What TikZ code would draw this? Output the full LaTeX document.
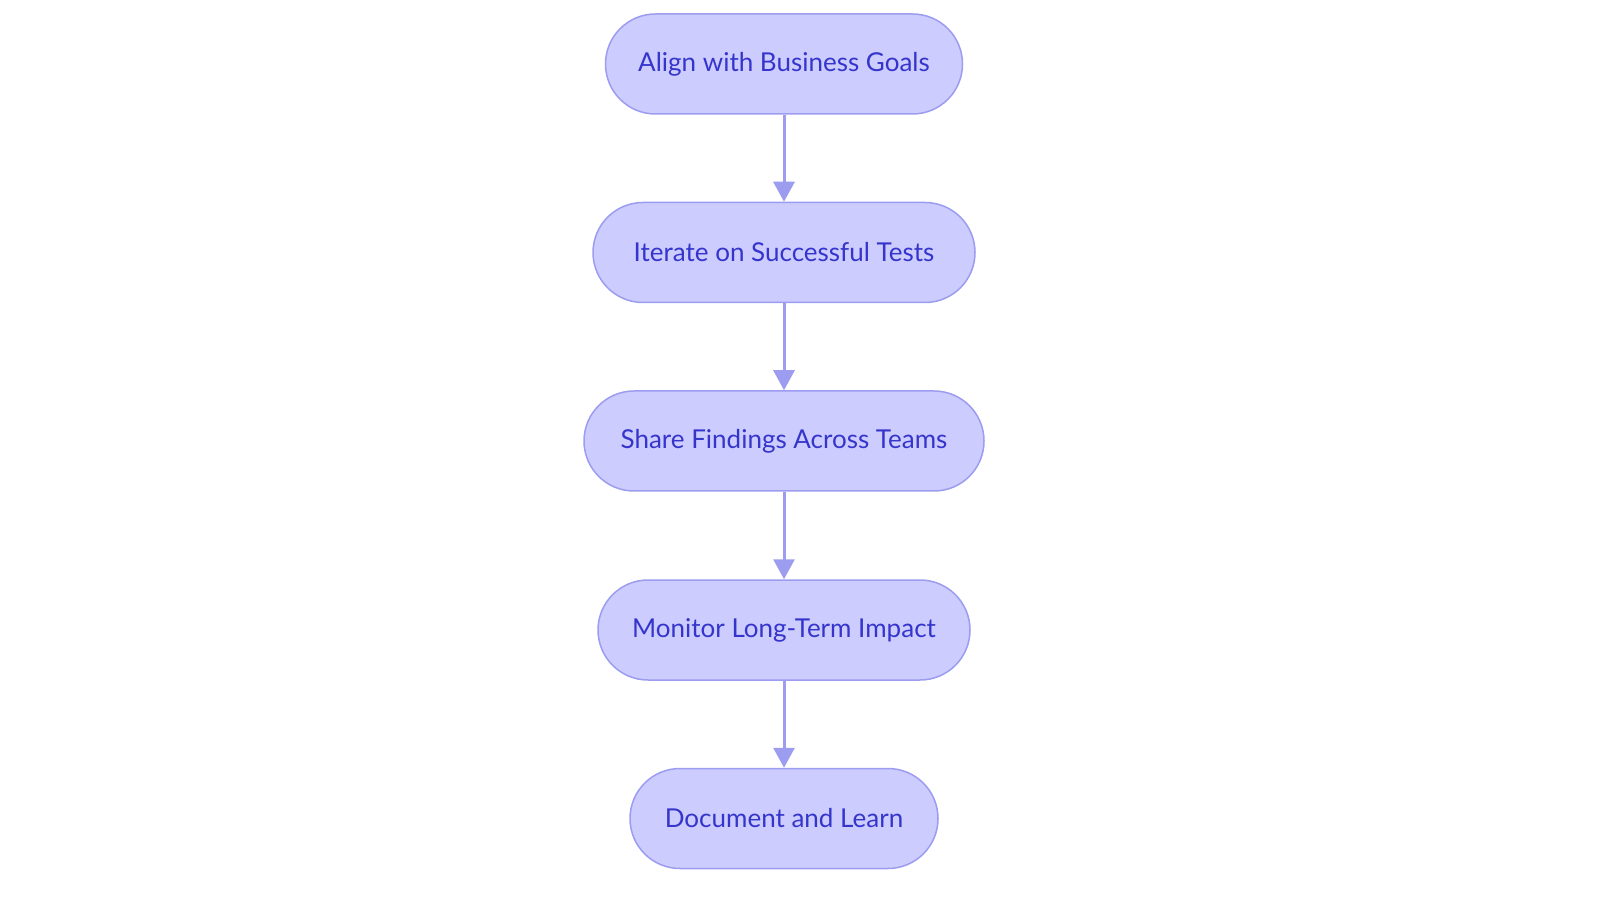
\documentclass[tikz,border=0pt]{standalone}
\usepackage{fontspec}
\setmainfont{Lato}
\usetikzlibrary{arrows.meta}
\definecolor{nodefill}{HTML}{CCCCFF}
\definecolor{nodeline}{HTML}{9C9CF0}
\definecolor{nodetext}{HTML}{3535CC}
\definecolor{arrowcol}{HTML}{9C9CF0}
\tikzset{
  x=1pt,y=1pt,
  stadium/.style={draw=nodeline, fill=nodefill, line width=1.5pt, rounded corners=50pt,
    minimum height=100pt, inner sep=0pt, text=nodetext, font=\fontsize{26}{30}\selectfont},
  conn/.style={draw=arrowcol, line width=3pt, -{Triangle[length=20pt,width=21pt]}}
}
\begin{document}
\begin{tikzpicture}
\useasboundingbox (0,0) rectangle (1600,903);
\node[stadium, minimum width=357pt] (a) at (784,839) {Align with Business Goals};
\node[stadium, minimum width=382pt] (b) at (784,650.5) {Iterate on Successful Tests};
\node[stadium, minimum width=400pt] (c) at (784,462) {Share Findings Across Teams};
\node[stadium, minimum width=372pt] (d) at (784,273) {Monitor Long-Term Impact};
\node[stadium, minimum width=308pt] (e) at (784,84.5) {Document and Learn};
\draw[conn] (a) -- (b);
\draw[conn] (b) -- (c);
\draw[conn] (c) -- (d);
\draw[conn] (d) -- (e);
\end{tikzpicture}
\end{document}
